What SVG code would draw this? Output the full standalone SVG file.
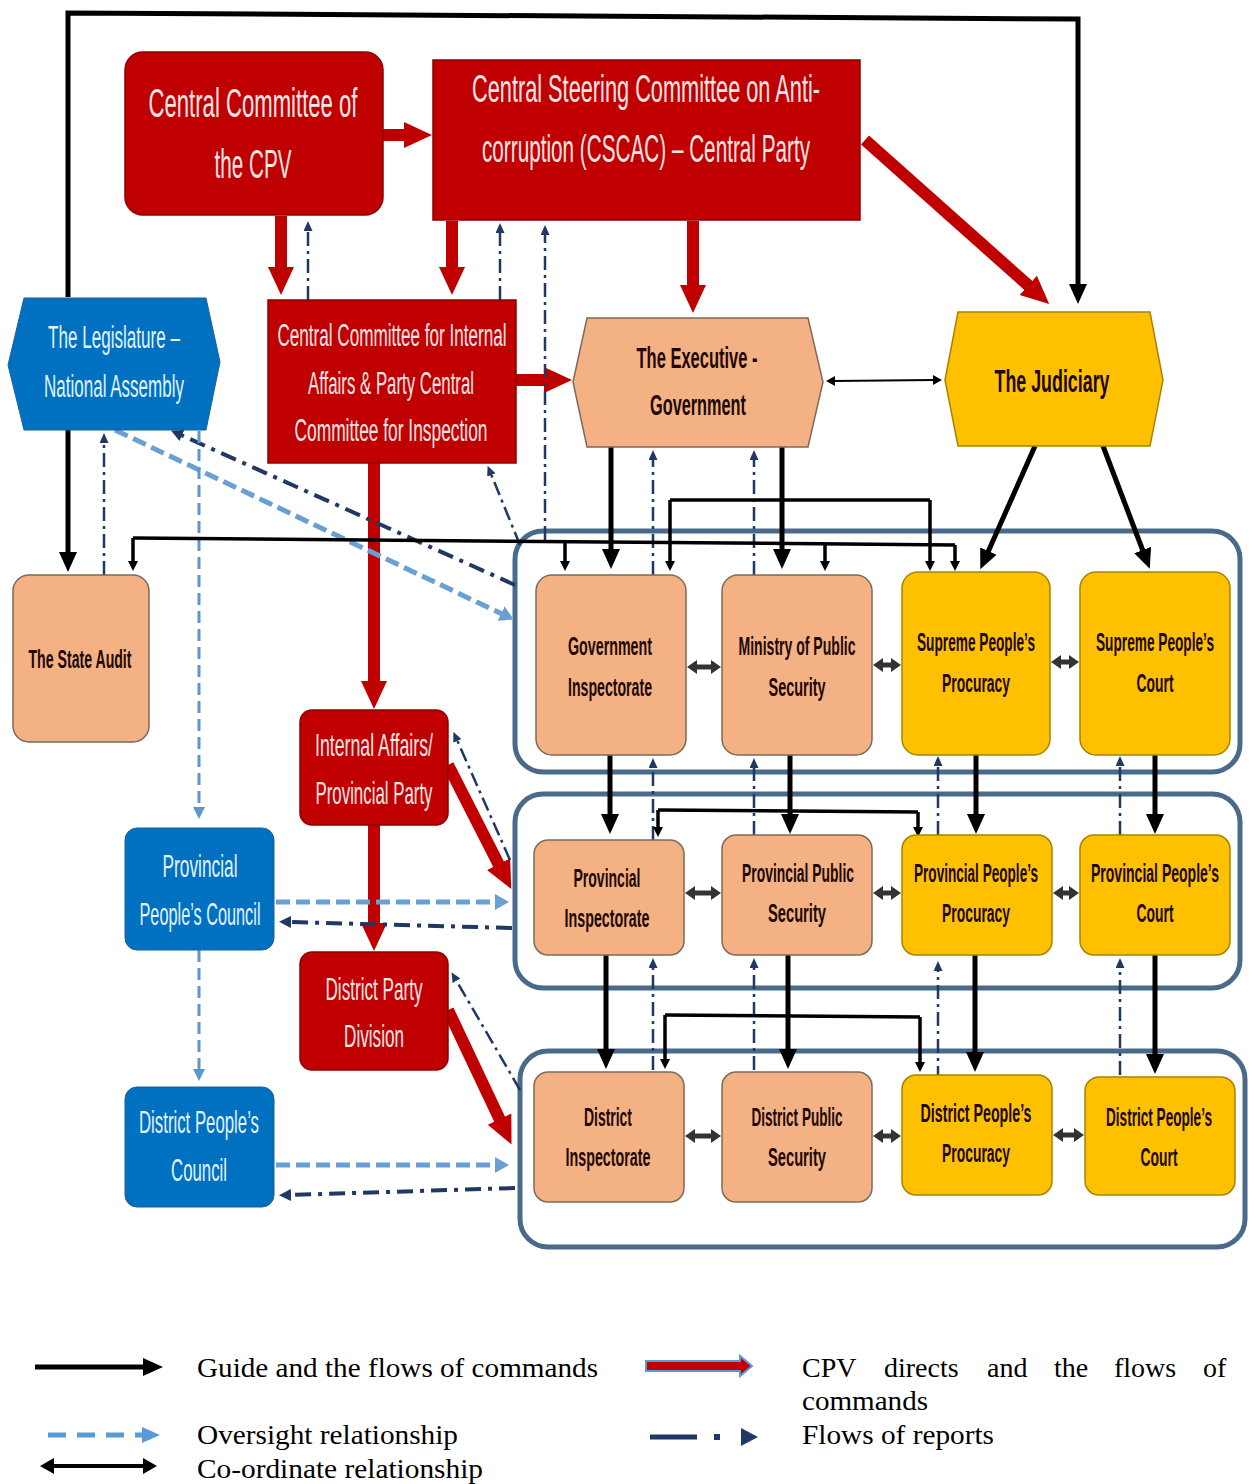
<svg xmlns="http://www.w3.org/2000/svg" width="1253" height="1484" viewBox="0 0 1253 1484">
<style>
.red{fill:#C00000;stroke:#8E0000;stroke-width:1.5}
.peach{fill:#F4B183;stroke:#7F6A5A;stroke-width:1.5}
.yel{fill:#FFC000;stroke:#A68400;stroke-width:1.5}
.blue{fill:#0070C0;stroke:#1F5F99;stroke-width:1}
.cont{fill:none;stroke:#4A6A8C;stroke-width:5}
.tw{font-family:"Liberation Sans Narrow","Liberation Sans",Arial,sans-serif;fill:#FCE6E6;text-anchor:middle}
.tb{font-family:"Liberation Sans Narrow","Liberation Sans",Arial,sans-serif;fill:#E2F4FF;text-anchor:middle}
.td{font-family:"Liberation Sans Narrow","Liberation Sans",Arial,sans-serif;fill:#200808;text-anchor:middle;font-weight:bold}
.lg{font-family:"Liberation Serif","Times New Roman",serif;font-size:28px;fill:#000}
.cr{fill:none;stroke:#C00000;stroke-width:12;marker-end:url(#mRed)}
.cb{fill:none;stroke:#000;stroke-width:5;marker-end:url(#mBlk)}
.cbs{fill:none;stroke:#000;stroke-width:3.5;marker-end:url(#mBlkS)}
.cbl{fill:none;stroke:#000;stroke-width:3.5}
.rep{fill:none;stroke:#1F3864;stroke-width:2.5;stroke-dasharray:14 5 3 5;marker-end:url(#mRep)}
.repT{fill:none;stroke:#1F3864;stroke-width:4;stroke-dasharray:16 7 4 7;marker-end:url(#mRep2)}
.ov{fill:none;stroke:#6A9FD4;stroke-width:5;stroke-dasharray:14 6;marker-end:url(#mOv)}
.ovT{fill:none;stroke:#5E96CF;stroke-width:3;stroke-dasharray:12 6;marker-end:url(#mOvS)}
.dbl{fill:none;stroke:#333;stroke-width:5;marker-start:url(#mDbl);marker-end:url(#mDbl)}
</style>
<defs>
<marker id="mRed" markerUnits="userSpaceOnUse" markerWidth="28" markerHeight="28" refX="1" refY="14" orient="auto"><path d="M0,1 L28,14 L0,27 z" fill="#C00000"/></marker>
<marker id="mBlk" markerUnits="userSpaceOnUse" markerWidth="20" markerHeight="18" refX="1" refY="9" orient="auto"><path d="M0,0 L20,9 L0,18 z" fill="#000"/></marker>
<marker id="mBlkS" markerUnits="userSpaceOnUse" markerWidth="10" markerHeight="10" refX="1" refY="5" orient="auto"><path d="M0,0 L10,5 L0,10 z" fill="#000"/></marker>
<marker id="mRep" markerUnits="userSpaceOnUse" markerWidth="10" markerHeight="9" refX="1" refY="4.5" orient="auto"><path d="M0,0 L10,4.5 L0,9 z" fill="#1F3864"/></marker>
<marker id="mRep2" markerUnits="userSpaceOnUse" markerWidth="12" markerHeight="12" refX="1" refY="6" orient="auto"><path d="M0,0 L12,6 L0,12 z" fill="#1F3864"/></marker>
<marker id="mOv" markerUnits="userSpaceOnUse" markerWidth="14" markerHeight="16" refX="1" refY="8" orient="auto"><path d="M0,0 L14,8 L0,16 z" fill="#6A9FD4"/></marker>
<marker id="mOvS" markerUnits="userSpaceOnUse" markerWidth="12" markerHeight="12" refX="1" refY="6" orient="auto"><path d="M0,0 L12,6 L0,12 z" fill="#5E96CF"/></marker>
<marker id="mDbl" markerUnits="userSpaceOnUse" markerWidth="10" markerHeight="14" refX="1" refY="7" orient="auto-start-reverse"><path d="M0,0 L10,7 L0,14 z" fill="#333"/></marker>
<marker id="mThin" markerUnits="userSpaceOnUse" markerWidth="9" markerHeight="10" refX="1" refY="5" orient="auto-start-reverse"><path d="M0,0 L9,5 L0,10 z" fill="#000"/></marker>
</defs>
<rect width="1253" height="1484" fill="#fff"/>

<g id="containers">
<rect class="cont" x="515" y="531" width="725" height="241" rx="28"/>
<rect class="cont" x="515" y="794" width="725" height="194" rx="28"/>
<rect class="cont" x="520" y="1051" width="725" height="196" rx="28"/>
</g>

<g id="connectors">
<path class="cb" stroke-width="6" d="M68,297 L68,13 L1078,19 L1078,285"/>
<path class="cr" d="M383,135 L405,135"/>
<path class="cr" d="M281,216 L281,268"/>
<path class="cr" d="M452,221 L452,268"/>
<path class="cr" d="M693,221 L693,286"/>
<path class="cr" d="M865,140 L1029,286"/>
<path class="cr" d="M516,380 L545,380"/>
<path class="cr" d="M374,463 L374,682"/>
<path class="cr" d="M448,765 L499,865"/>
<path class="cr" d="M374,825 L374,924"/>
<path class="cr" d="M448,1010 L500,1120"/>
<path class="rep" d="M308,300 L308,230"/>
<path class="rep" d="M500,300 L500,232"/>
<path class="rep" d="M545,540 L545,234"/>
<path class="rep" d="M520,545 L491,474"/>
<path class="rep" d="M653,575 L653,459"/>
<path class="rep" d="M754,575 L754,459"/>
<path class="repT" d="M515,585 L181,435"/>
<path class="rep" d="M104,575 L104,442"/>
<path class="rep" d="M653,840 L653,767"/>
<path class="rep" d="M754,835 L754,767"/>
<path class="rep" d="M938,835 L938,765"/>
<path class="rep" d="M1120,835 L1120,765"/>
<path class="rep" d="M653,1070 L653,967"/>
<path class="rep" d="M754,1070 L754,967"/>
<path class="rep" d="M938,1080 L938,970"/>
<path class="rep" d="M1120,1075 L1120,967"/>
<path class="rep" d="M510,860 L457,740"/>
<path class="rep" d="M520,1090 L456,980"/>
<path class="repT" d="M512,928 L290,922"/>
<path class="repT" d="M515,1188 L290,1195"/>
<path class="ov" d="M115,430 L502,614"/>
<path class="ovT" d="M199,431 L199,808"/>
<path class="ovT" d="M199,950 L199,1070"/>
<path class="ov" d="M276,902 L496,902"/>
<path class="ov" d="M276,1165 L496,1165"/>
<path class="cb" stroke-width="4" d="M68,430 L68,553"/>
<path class="cbl" d="M133,538 L955,545"/>
<path class="cbs" d="M133,538 L133,562"/>
<path class="cbs" d="M565,542 L565,562"/>
<path class="cbs" d="M825,544 L825,562"/>
<path class="cbs" d="M955,545 L955,562"/>
<path class="cbl" d="M670,500 L930,500"/>
<path class="cbs" d="M670,500 L670,562"/>
<path class="cbs" d="M930,500 L930,562"/>
<path class="cb" d="M611,447 L611,550"/>
<path class="cb" d="M782,447 L782,550"/>
<path class="cb" d="M1035,446 L988,552"/>
<path class="cb" d="M1103,446 L1143,551"/>
<path class="cb" d="M610,755 L610,815"/>
<path class="cb" d="M790,755 L790,815"/>
<path class="cb" d="M976,755 L976,815"/>
<path class="cb" d="M1155,755 L1155,815"/>
<path class="cbl" d="M658,810 L918,812"/>
<path class="cbs" d="M658,810 L658,828"/>
<path class="cbs" d="M918,812 L918,828"/>
<path class="cb" d="M606,955 L606,1050"/>
<path class="cb" d="M788,955 L788,1050"/>
<path class="cb" d="M975,955 L975,1053"/>
<path class="cb" d="M1155,955 L1155,1055"/>
<path class="cbl" d="M665,1015 L920,1017"/>
<path class="cbs" d="M665,1015 L665,1060"/>
<path class="cbs" d="M920,1017 L920,1063"/>
<path fill="none" stroke="#000" stroke-width="2" marker-start="url(#mThin)" marker-end="url(#mThin)" d="M834,381 L934,380"/>
<path class="dbl" d="M696,667 L712,667"/>
<path class="dbl" d="M882,665 L892,665"/>
<path class="dbl" d="M1060,662 L1070,662"/>
<path class="dbl" d="M694,893 L712,893"/>
<path class="dbl" d="M882,893 L892,893"/>
<path class="dbl" d="M1062,893 L1070,893"/>
<path class="dbl" d="M694,1136 L712,1136"/>
<path class="dbl" d="M882,1136 L892,1136"/>
<path class="dbl" d="M1062,1135 L1075,1135"/>
</g>

<g id="n-cpv"><rect class="red" x="125" y="52" width="258" height="163" rx="18"/>
<text class="tw" x="253" y="117" font-size="40" textLength="209" lengthAdjust="spacingAndGlyphs">Central Committee of</text>
<text class="tw" x="253" y="178" font-size="40" textLength="77" lengthAdjust="spacingAndGlyphs">the CPV</text></g>

<g id="n-cscac"><rect class="red" x="433" y="60" width="427" height="160"/>
<text class="tw" x="646" y="102" font-size="38" textLength="348" lengthAdjust="spacingAndGlyphs">Central Steering Committee on Anti-</text>
<text class="tw" x="646" y="162" font-size="38" textLength="328" lengthAdjust="spacingAndGlyphs">corruption (CSCAC) – Central Party</text></g>

<g id="n-ccia"><rect class="red" x="268" y="300" width="248" height="163"/>
<text class="tw" x="392" y="346" font-size="31" textLength="229" lengthAdjust="spacingAndGlyphs">Central Committee for Internal</text>
<text class="tw" x="391" y="394" font-size="31" textLength="166" lengthAdjust="spacingAndGlyphs">Affairs &amp; Party Central</text>
<text class="tw" x="391" y="441" font-size="31" textLength="193" lengthAdjust="spacingAndGlyphs">Committee for Inspection</text></g>

<g id="n-exec"><polygon class="peach" points="573,382 587,318 808,318 823,382 808,447 587,447"/>
<text class="td" x="697" y="368" font-size="29" textLength="121" lengthAdjust="spacingAndGlyphs">The Executive -</text>
<text class="td" x="698" y="415" font-size="29" textLength="96" lengthAdjust="spacingAndGlyphs">Government</text></g>

<g id="n-jud"><polygon class="yel" points="945,380 958,312 1150,312 1163,380 1150,446 958,446"/>
<text class="td" x="1052" y="392" font-size="32" textLength="115" lengthAdjust="spacingAndGlyphs">The  Judiciary</text></g>

<g id="n-leg"><polygon class="blue" points="8,365 24,298 206,298 220,362 206,430 24,430"/>
<text class="tb" x="114" y="348" font-size="31" textLength="132" lengthAdjust="spacingAndGlyphs">The  Legislature –</text>
<text class="tb" x="114" y="397" font-size="31" textLength="140" lengthAdjust="spacingAndGlyphs">National Assembly</text></g>

<g id="n-audit"><rect class="peach" x="13" y="575" width="136" height="167" rx="16"/>
<text class="td" x="80" y="668" font-size="25" textLength="103" lengthAdjust="spacingAndGlyphs">The State Audit</text></g>

<g id="n-iapp"><rect class="red" x="300" y="710" width="148" height="115" rx="12"/>
<text class="tw" x="374" y="756" font-size="32" textLength="118" lengthAdjust="spacingAndGlyphs">Internal Affairs/</text>
<text class="tw" x="374" y="804" font-size="32" textLength="117" lengthAdjust="spacingAndGlyphs">Provincial Party</text></g>

<g id="n-dpd"><rect class="red" x="300" y="952" width="148" height="118" rx="12"/>
<text class="tw" x="374" y="1000" font-size="32" textLength="97" lengthAdjust="spacingAndGlyphs">District Party</text>
<text class="tw" x="374" y="1047" font-size="32" textLength="60" lengthAdjust="spacingAndGlyphs">Division</text></g>

<g id="n-ppc"><rect class="blue" x="125" y="828" width="149" height="122" rx="12"/>
<text class="tb" x="200" y="877" font-size="32" textLength="75" lengthAdjust="spacingAndGlyphs">Provincial</text>
<text class="tb" x="200" y="925" font-size="32" textLength="121" lengthAdjust="spacingAndGlyphs">People’s Council</text></g>

<g id="n-dpc"><rect class="blue" x="125" y="1087" width="149" height="120" rx="12"/>
<text class="tb" x="199" y="1133" font-size="32" textLength="120" lengthAdjust="spacingAndGlyphs">District People’s</text>
<text class="tb" x="199" y="1181" font-size="32" textLength="56" lengthAdjust="spacingAndGlyphs">Council</text></g>

<g id="n-gi"><rect class="peach" x="536" y="575" width="150" height="180" rx="16"/>
<text class="td" x="610" y="655" font-size="25" textLength="84" lengthAdjust="spacingAndGlyphs">Government</text>
<text class="td" x="610" y="696" font-size="25" textLength="84" lengthAdjust="spacingAndGlyphs">Inspectorate</text></g>

<g id="n-mps"><rect class="peach" x="722" y="575" width="150" height="180" rx="16"/>
<text class="td" x="797" y="655" font-size="25" textLength="117" lengthAdjust="spacingAndGlyphs">Ministry of Public</text>
<text class="td" x="797" y="696" font-size="25" textLength="57" lengthAdjust="spacingAndGlyphs">Security</text></g>

<g id="n-spp"><rect class="yel" x="902" y="572" width="148" height="183" rx="16"/>
<text class="td" x="976" y="651" font-size="25" textLength="118" lengthAdjust="spacingAndGlyphs">Supreme People’s</text>
<text class="td" x="976" y="692" font-size="25" textLength="68" lengthAdjust="spacingAndGlyphs">Procuracy</text></g>

<g id="n-spc"><rect class="yel" x="1080" y="572" width="150" height="183" rx="16"/>
<text class="td" x="1155" y="651" font-size="25" textLength="118" lengthAdjust="spacingAndGlyphs">Supreme People’s</text>
<text class="td" x="1155" y="692" font-size="25" textLength="37" lengthAdjust="spacingAndGlyphs">Court</text></g>

<g id="n-pi"><rect class="peach" x="534" y="840" width="150" height="115" rx="14"/>
<text class="td" x="607" y="887" font-size="25" textLength="67" lengthAdjust="spacingAndGlyphs">Provincial</text>
<text class="td" x="607" y="927" font-size="25" textLength="85" lengthAdjust="spacingAndGlyphs">Inspectorate</text></g>

<g id="n-pps"><rect class="peach" x="722" y="835" width="150" height="120" rx="14"/>
<text class="td" x="798" y="882" font-size="25" textLength="112" lengthAdjust="spacingAndGlyphs">Provincial Public</text>
<text class="td" x="797" y="922" font-size="25" textLength="58" lengthAdjust="spacingAndGlyphs">Security</text></g>

<g id="n-ppp"><rect class="yel" x="902" y="835" width="150" height="120" rx="14"/>
<text class="td" x="976" y="882" font-size="25" textLength="124" lengthAdjust="spacingAndGlyphs">Provincial People’s</text>
<text class="td" x="976" y="922" font-size="25" textLength="68" lengthAdjust="spacingAndGlyphs">Procuracy</text></g>

<g id="n-ppct"><rect class="yel" x="1080" y="835" width="150" height="120" rx="14"/>
<text class="td" x="1155" y="882" font-size="25" textLength="128" lengthAdjust="spacingAndGlyphs">Provincial  People’s</text>
<text class="td" x="1155" y="922" font-size="25" textLength="37" lengthAdjust="spacingAndGlyphs">Court</text></g>

<g id="n-di"><rect class="peach" x="534" y="1072" width="150" height="130" rx="14"/>
<text class="td" x="608" y="1126" font-size="25" textLength="48" lengthAdjust="spacingAndGlyphs">District</text>
<text class="td" x="608" y="1166" font-size="25" textLength="85" lengthAdjust="spacingAndGlyphs">Inspectorate</text></g>

<g id="n-dps"><rect class="peach" x="722" y="1072" width="150" height="130" rx="14"/>
<text class="td" x="797" y="1126" font-size="25" textLength="91" lengthAdjust="spacingAndGlyphs">District Public</text>
<text class="td" x="797" y="1166" font-size="25" textLength="58" lengthAdjust="spacingAndGlyphs">Security</text></g>

<g id="n-dpp"><rect class="yel" x="902" y="1075" width="150" height="120" rx="14"/>
<text class="td" x="976" y="1122" font-size="25" textLength="111" lengthAdjust="spacingAndGlyphs">District  People’s</text>
<text class="td" x="976" y="1162" font-size="25" textLength="68" lengthAdjust="spacingAndGlyphs">Procuracy</text></g>

<g id="n-dpct"><rect class="yel" x="1085" y="1077" width="150" height="118" rx="14"/>
<text class="td" x="1159" y="1126" font-size="25" textLength="106" lengthAdjust="spacingAndGlyphs">District People’s</text>
<text class="td" x="1159" y="1166" font-size="25" textLength="37" lengthAdjust="spacingAndGlyphs">Court</text></g>

<g id="legend">
<path d="M35,1367 L144,1367" stroke="#000" stroke-width="5" marker-end="url(#mBlk)"/>
<text class="lg" x="197" y="1377" textLength="401" lengthAdjust="spacingAndGlyphs">Guide and the flows of commands</text>
<polygon points="646,1361 740,1361 740,1356 752,1366 740,1376 740,1371 646,1371" fill="#C00000" stroke="#5B9BD5" stroke-width="2"/>
<text class="lg" y="1377"><tspan x="802">CPV</tspan><tspan x="884">directs</tspan><tspan x="987">and</tspan><tspan x="1054">the</tspan><tspan x="1114">flows</tspan><tspan x="1203">of</tspan></text>
<text class="lg" x="802" y="1410" textLength="126" lengthAdjust="spacingAndGlyphs">commands</text>
<path d="M48,1435 L142,1435" stroke="#5B9BD5" stroke-width="5" stroke-dasharray="18 11" fill="none"/>
<polygon points="142,1427 160,1435 142,1443" fill="#5B9BD5"/>
<text class="lg" x="197" y="1444" textLength="261" lengthAdjust="spacingAndGlyphs">Oversight relationship</text>
<path d="M650,1437 L697,1437" stroke="#1F3864" stroke-width="5"/>
<rect x="714" y="1434" width="6" height="6" fill="#1F3864"/>
<polygon points="741,1428 758,1437 741,1446" fill="#1F3864"/>
<text class="lg" x="802" y="1444" textLength="192" lengthAdjust="spacingAndGlyphs">Flows of reports</text>
<path d="M52,1466 L145,1466" stroke="#000" stroke-width="4" fill="none"/>
<polygon points="54,1458 40,1466 54,1474" fill="#000"/>
<polygon points="143,1458 157,1466 143,1474" fill="#000"/>
<text class="lg" x="197" y="1478" textLength="286" lengthAdjust="spacingAndGlyphs">Co-ordinate relationship</text>
</g>
</svg>
